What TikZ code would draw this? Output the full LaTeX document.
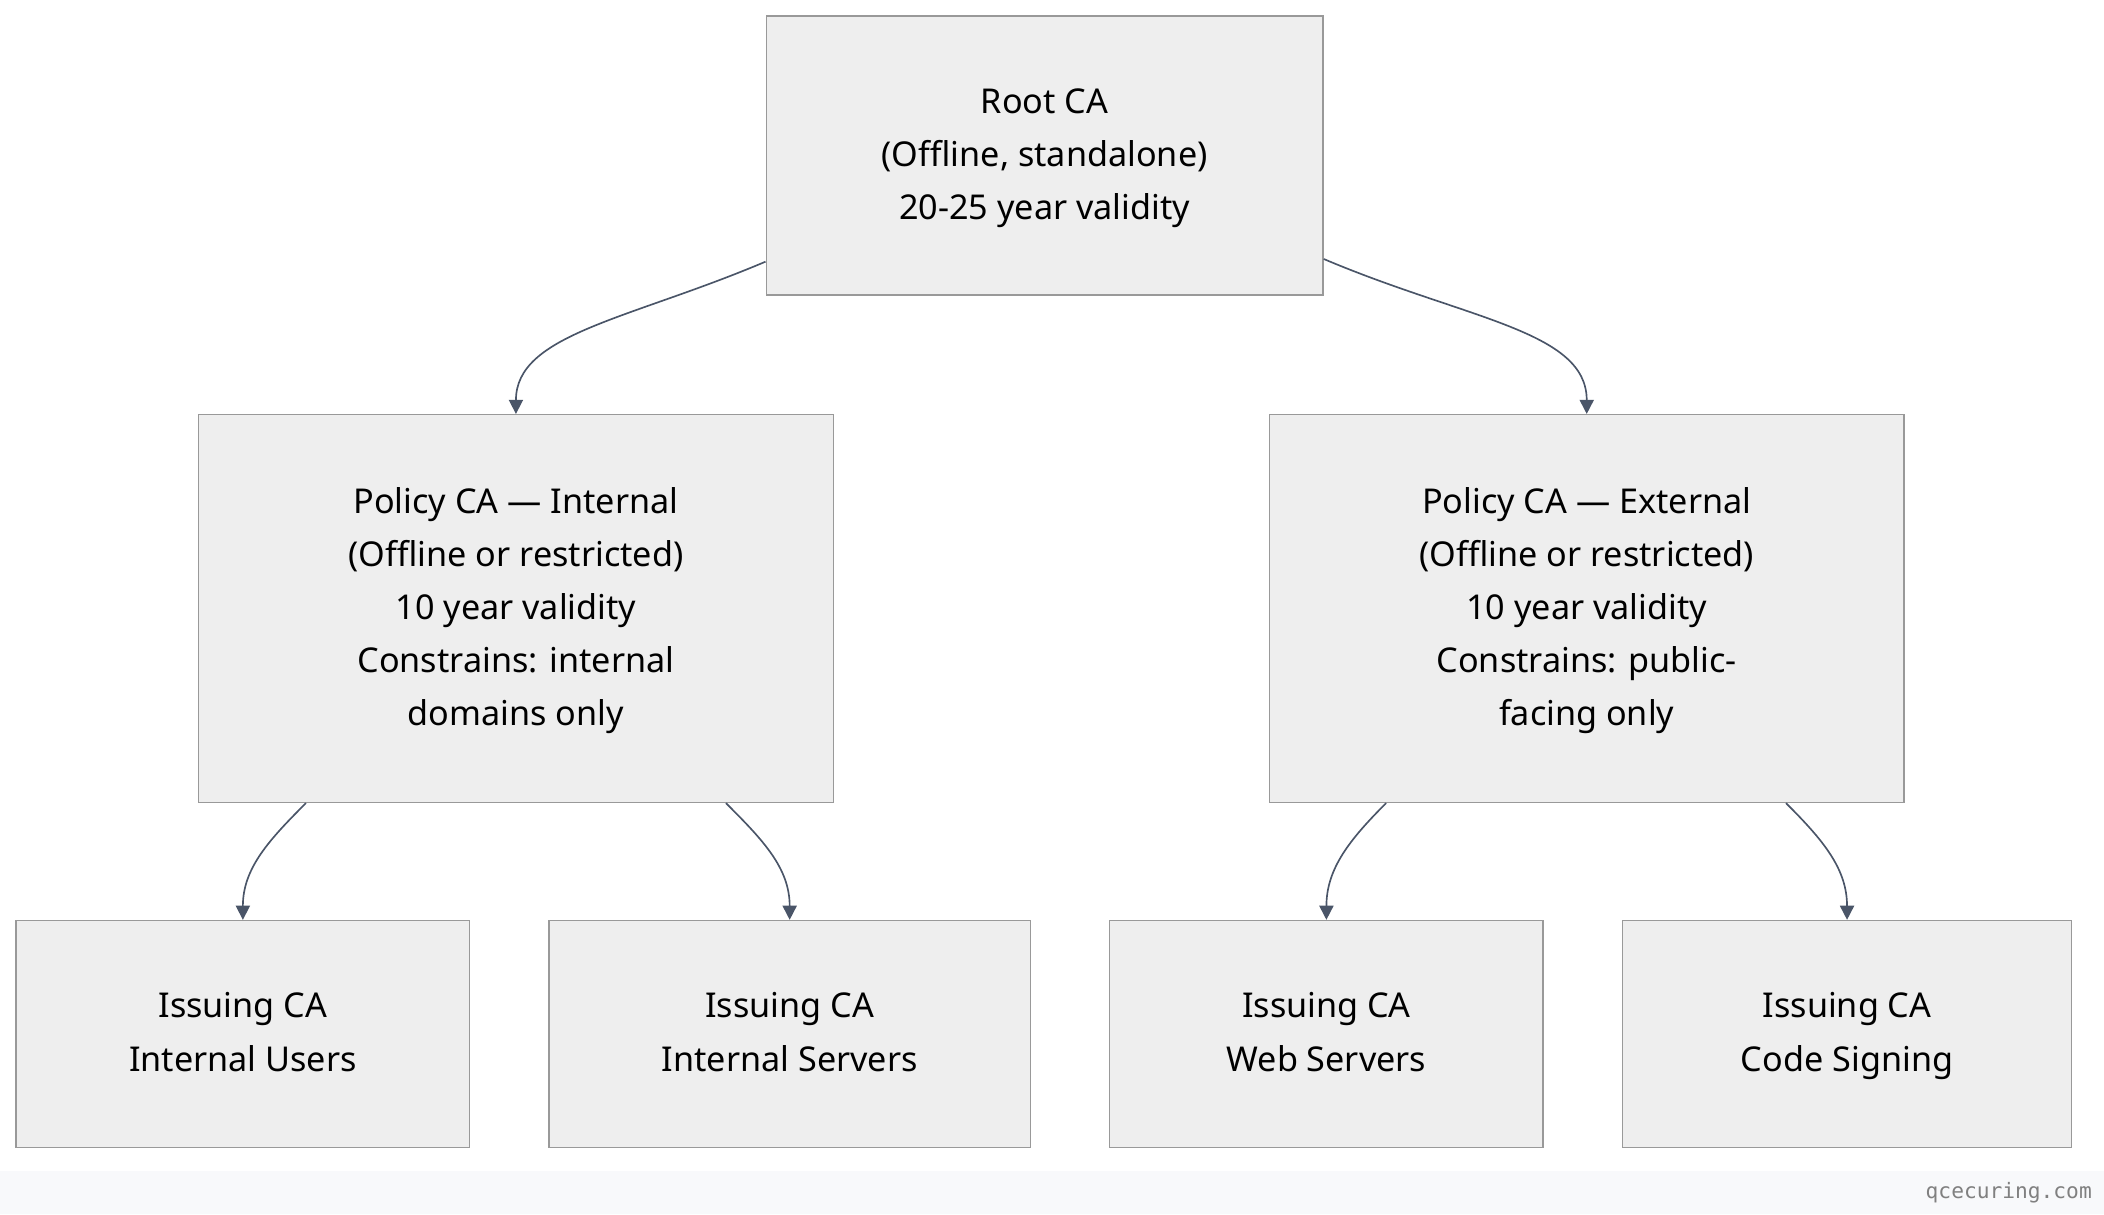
\documentclass[tikz,border=0pt]{standalone}
\usepackage{fontspec}
\setmainfont{Noto Sans}
\setmonofont{DejaVu Sans Mono}
\usetikzlibrary{arrows.meta}
\definecolor{boxfill}{HTML}{EEEEEE}
\definecolor{boxline}{HTML}{999999}
\definecolor{edgecol}{HTML}{4A5568}
\definecolor{barfill}{HTML}{F8F9FB}
\tikzset{
  ca/.style={draw=boxline, fill=boxfill, line width=0.6pt, align=center,
    inner sep=0pt, font=\fontsize{14.5}{22.5}\selectfont},
  link/.style={draw=edgecol, line width=0.7pt, -{Triangle[length=6pt,width=6pt]}}
}
\begin{document}
\begin{tikzpicture}[x=0.02cm,y=-0.02cm]
  \useasboundingbox (0,0) rectangle (1568,905);
  \fill[barfill] (0,873) rectangle (1568,905);
  \node[font=\ttfamily\fontsize{9}{11}\selectfont, text=gray] (site) at (1497,889) {qcecuring.com};
  % nodes
  \node[ca, minimum width=8.3cm, minimum height=4.16cm] (root) at (778.5,116)
    {\strut Root CA\\(Offline, standalone)\\20-25 year validity\strut};
  \node[ca, minimum width=9.46cm, minimum height=5.78cm] (polint) at (384.5,453.5)
    {\strut Policy CA — Internal\\(Offline or restricted)\\10 year validity\\Constrains: internal\\domains only\strut};
  \node[ca, minimum width=9.46cm, minimum height=5.78cm] (polext) at (1182.5,453.5)
    {\strut Policy CA — External\\(Offline or restricted)\\10 year validity\\Constrains: public-\\facing only\strut};
  \node[ca, minimum width=6.76cm, minimum height=3.38cm] (isusers) at (181,770.5)
    {\strut Issuing CA\\Internal Users\strut};
  \node[ca, minimum width=7.18cm, minimum height=3.38cm] (issrv) at (588.5,770.5)
    {\strut Issuing CA\\Internal Servers\strut};
  \node[ca, minimum width=6.46cm, minimum height=3.38cm] (isweb) at (988.5,770.5)
    {\strut Issuing CA\\Web Servers\strut};
  \node[ca, minimum width=6.7cm, minimum height=3.38cm] (iscode) at (1376.5,770.5)
    {\strut Issuing CA\\Code Signing\strut};
  % connectors
  \draw[link] (root.west |- 0,195) to[out=203, in=90, out looseness=1.3, in looseness=0.7] (polint.north);
  \draw[link] (root.east |- 0,193) to[out=-23, in=90, out looseness=1.3, in looseness=0.7] (polext.north);
  \draw[link] (polint.south -| 228,0) to[out=-135, in=90] (isusers.north);
  \draw[link] (polint.south -| 541,0) to[out=-45, in=90] (issrv.north);
  \draw[link] (polext.south -| 1033,0) to[out=-135, in=90] (isweb.north);
  \draw[link] (polext.south -| 1331,0) to[out=-45, in=90] (iscode.north);
\end{tikzpicture}
\end{document}
